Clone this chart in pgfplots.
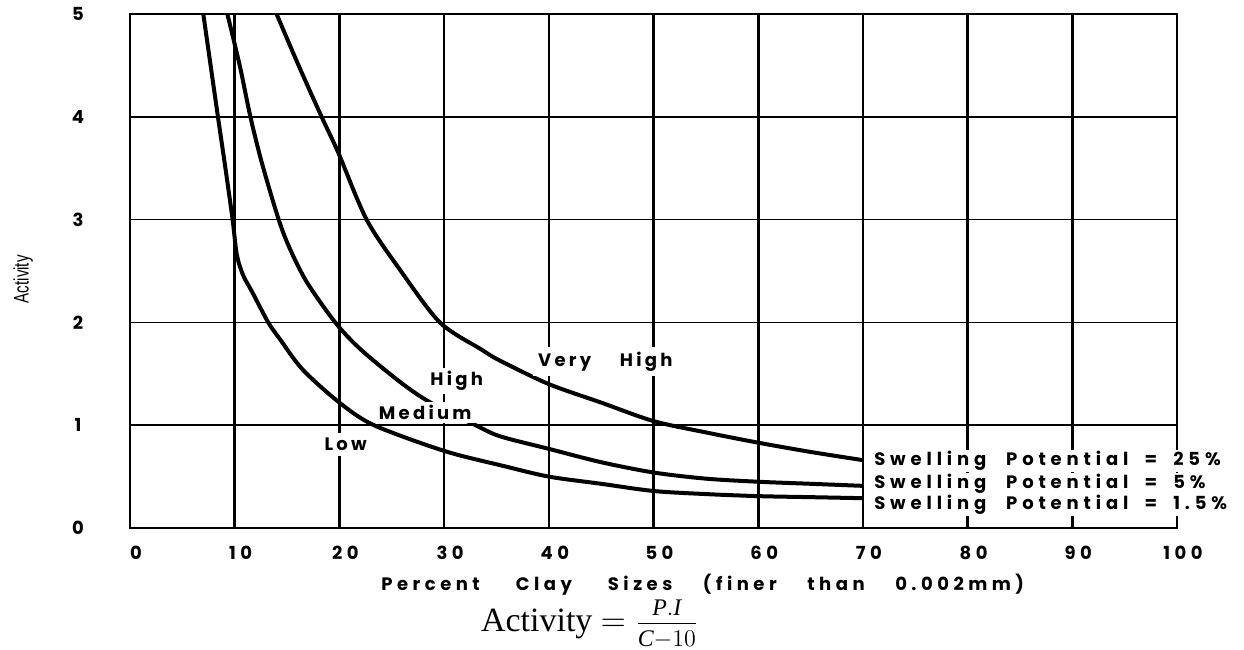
\documentclass[border=0pt]{standalone}
\usepackage{fontspec}
\usepackage{graphicx}
\usepackage{pgfplots}
\pgfplotsset{compat=1.18}
\setmainfont{Liberation Serif}
\newfontfamily\lab[LetterSpace=25]{Poppins}
\newfontfamily\slab[LetterSpace=27]{Poppins}
\newfontfamily\clab[LetterSpace=18]{Poppins}
\newfontfamily\ylab{Liberation Sans}

\pgfplotstableread{
x y
14.0 5.00
16.1 4.50
18.3 4.00
19.9 3.65
22.6 3.00
25.8 2.51
29.6 2.00
33.5 1.74
35.3 1.63
40.0 1.40
45.0 1.22
50.0 1.04
55.0 0.93
60.0 0.83
65.0 0.74
70.0 0.66
}\highcurve

\pgfplotstableread{
x y
9.3 5.00
10.5 4.49
11.5 4.00
12.6 3.55
14.2 3.00
15.3 2.71
16.9 2.39
19.6 2.00
22.0 1.74
25.8 1.42
28.7 1.22
33.2 0.99
35.4 0.89
40.0 0.77
45.0 0.64
50.0 0.54
55.0 0.48
60.0 0.45
65.0 0.43
70.0 0.41
}\midcurve

\pgfplotstableread{
x y
7.0 5.00
8.4 4.00
9.1 3.51
9.8 3.00
10.2 2.66
10.8 2.46
11.7 2.29
13.2 2.00
14.3 1.84
16.5 1.54
20.0 1.22
23.3 1.00
30.0 0.75
35.4 0.61
40.0 0.50
45.0 0.43
50.0 0.36
55.0 0.33
60.0 0.31
65.0 0.30
70.0 0.29
}\lowcurve

\begin{document}
\begin{tikzpicture}
\path[use as bounding box] (-65pt,-60.5pt) rectangle (557pt,264pt);
\begin{axis}[
  scale only axis, width=523.5pt, height=257pt,
  xmin=0, xmax=100, ymin=0, ymax=5,
  xtick={0,10,...,100}, ytick={0,1,...,5},
  grid=major,
  x grid style={black, line width=1.3pt},
  y grid style={black, line width=0.75pt},
  axis line style={black, line width=1.2pt},
  major tick length=0pt,
  tick label style={font=\lab\bfseries\fontsize{9}{10}\selectfont},
  /pgf/number format/assume math mode=true,
  xticklabel style={anchor=center, yshift=-12.5pt, xshift=3pt},
  yticklabel style={anchor=center, xshift=-26pt},
  clip=false,
]
\addplot[black, line width=2pt, smooth, tension=0.5] table[x=x,y=y] {\highcurve};
\addplot[black, line width=2pt, smooth, tension=0.5] table[x=x,y=y] {\midcurve};
\addplot[black, line width=2pt, smooth, tension=0.5] table[x=x,y=y] {\lowcurve};

\node[fill=white, inner sep=2.5pt, font=\clab\bfseries\fontsize{9}{10}\selectfont] at (axis cs:20.6,0.816) {Low};
\node[fill=white, inner sep=1.5pt, font=\clab\bfseries\fontsize{9}{10}\selectfont] at (axis cs:28.2,1.126) {Medium};
\node[fill=white, inner sep=1.5pt, font=\clab\bfseries\fontsize{9}{10}\selectfont] at (axis cs:31.2,1.43) {High};
\node[fill=white, inner sep=2.5pt, font=\clab\bfseries\fontsize{9}{10}\selectfont] at (axis cs:45.4,1.62) {Very\hspace{1.6em}High};

\node[anchor=west, fill=white, inner sep=0.8pt, font=\slab\bfseries\fontsize{9}{10}\selectfont] at (axis cs:70.9,0.65) {Swelling\hspace{1.1em}Potential\hspace{0.9em}=\hspace{0.9em}25\%};
\node[anchor=west, fill=white, inner sep=0.8pt, font=\slab\bfseries\fontsize{9}{10}\selectfont] at (axis cs:70.9,0.427) {Swelling\hspace{1.1em}Potential\hspace{0.9em}=\hspace{0.9em}5\%};
\node[anchor=west, fill=white, inner sep=0.8pt, font=\slab\bfseries\fontsize{9}{10}\selectfont] at (axis cs:70.9,0.223) {Swelling\hspace{1.1em}Potential\hspace{0.9em}=\hspace{0.9em}1.5\%};

\node[font=\lab\bfseries\fontsize{9}{10}\selectfont] at (axis cs:54.7,-0.553) {Percent\hspace{2em}Clay\hspace{2em}Sizes\hspace{1.7em}(finer\hspace{1.7em}than\hspace{1.7em}0.002mm)};
\node[font=\fontsize{17}{19}\selectfont] at (axis cs:43.9,-0.935) {Activity $=\frac{\raisebox{1.5pt}{$\scriptstyle\mathit{P.I}$}}{\raisebox{-1.5pt}{$\scriptstyle\mathit{C}-10$}}$};
\node[rotate=90, font=\ylab\fontsize{10.5}{12}\selectfont] at (axis cs:-10.2,2.42) {\scalebox{0.72}[1]{Activity}};
\end{axis}
\end{tikzpicture}
\end{document}
